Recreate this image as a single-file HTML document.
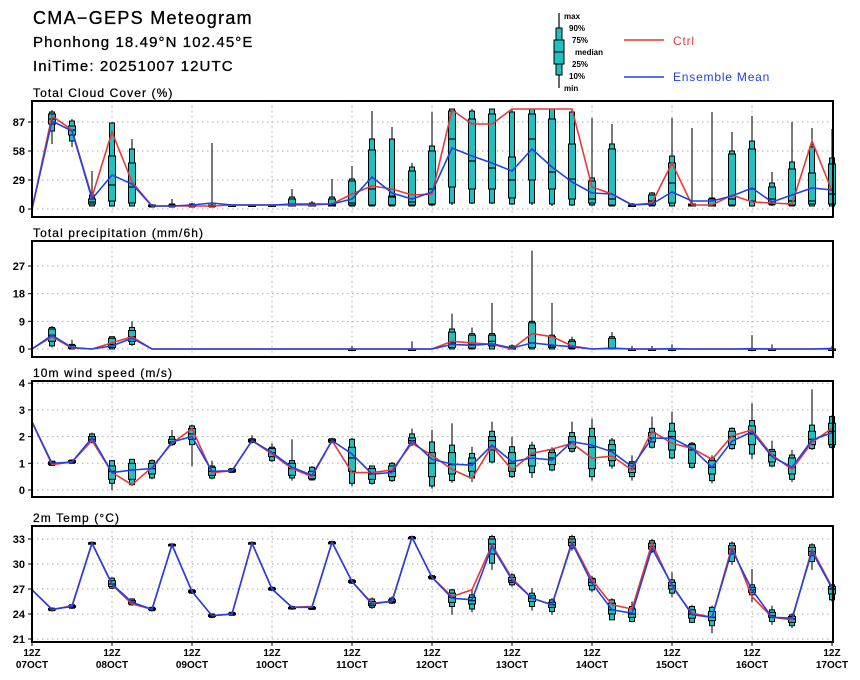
<!DOCTYPE html>
<html><head><meta charset="utf-8">
<style>
html,body{margin:0;padding:0;background:#fff;}
svg{display:block;font-family:"Liberation Sans",sans-serif;}
</style></head>
<body>
<svg id="chart" width="860" height="680" viewBox="0 0 860 680" xmlns="http://www.w3.org/2000/svg">
<text x="33" y="24" font-size="18" letter-spacing="1.3" stroke="#000" stroke-width="0.3">CMA−GEPS Meteogram</text>
<text x="33" y="47" font-size="15" letter-spacing="1.1" stroke="#000" stroke-width="0.3">Phonhong 18.49°N 102.45°E</text>
<text x="33" y="71" font-size="15" letter-spacing="1.1" stroke="#000" stroke-width="0.3">IniTime: 20251007 12UTC</text>
<g>
<line x1="559" y1="13" x2="559" y2="88" stroke="#000" stroke-width="1.2"/>
<rect x="556" y="28" width="6" height="47" fill="#20c0c0" stroke="#000"/>
<rect x="554" y="40" width="10" height="24" fill="#20c0c0" stroke="#000"/>
<line x1="554" y1="52" x2="564" y2="52" stroke="#000"/>
<g font-size="8" font-weight="bold">
<text x="564" y="19">max</text><text x="569" y="31">90%</text><text x="572" y="43">75%</text>
<text x="575" y="55">median</text><text x="572" y="67">25%</text><text x="569" y="79">10%</text><text x="564" y="91">min</text>
</g></g>
<g><line x1="624" y1="40" x2="664" y2="40" stroke="#e83838" stroke-width="1.5"/><text x="673" y="45" font-size="12" letter-spacing="0.8" fill="#e83838">Ctrl</text></g>
<g><line x1="624" y1="77" x2="664" y2="77" stroke="#2040e8" stroke-width="1.5"/><text x="673" y="81" font-size="12" letter-spacing="0.8" fill="#2040e8">Ensemble Mean</text></g>
</svg>
<script>
// ---- Cloud cover ----
const cloudCtrl=[0,93,79,12,77,27,3,3,3,3,4,4,4,4,4,5,15,23,20,14,15,99,85,85,100,100,100,100,22,15,4,6,46,4,4,14,7,6,5,68,18];
const cloudMean=[0,88,78,10,34,25,3,3,4,6,4,4,4,5,5,5,10,32,16,10,17,61,53,46,38,60,42,27,16,15,4,5,17,8,8,13,21,7,14,21,19];
const cloudMin=[null,65,62,3,3,3,2,2,2,2,3,3,3,3,3,3,3,3,3,3,3,4,5,5,4,4,3,3,3,3,3,3,3,3,3,3,3,3,3,3,3];
const cloudP10=[null,78,68,3,3,3,2,2,2,2,3,3,3,3,3,3,3,3,3,3,4,6,6,6,5,6,5,4,4,3,3,3,3,3,3,3,3,4,3,3,3];
const cloudP25=[null,85,74,5,8,6,3,3,3,3,3,3,3,3,3,3,4,4,4,4,5,22,20,20,11,29,20,10,6,4,3,4,6,3,3,4,8,5,4,5,5];
const cloudMed=[null,90,79,7,24,22,3,3,3,3,4,4,4,5,4,4,6,20,12,7,20,70,48,41,29,70,37,30,10,10,3,8,26,4,4,10,20,10,8,8,15];
const cloudP75=[null,95,83,10,53,46,4,4,4,4,4,4,4,10,5,10,28,59,13,38,58,98,90,95,52,95,90,65,28,60,4,14,46,5,10,55,60,22,40,36,45];
const cloudP90=[null,97,88,14,86,60,4,5,5,4,4,4,4,12,6,12,30,70,70,42,63,100,98,100,97,100,100,97,31,65,5,16,53,5,11,58,68,26,47,62,51];
const cloudMax=[null,99,90,38,86,70,5,10,6,66,5,4,5,20,8,30,43,98,82,46,97,100,100,100,100,100,100,100,91,85,6,17,91,81,97,77,93,37,87,81,80];
const cloudTicks=[0,29,58,87];
// ---- Precipitation ----
const precCtrl=[0,4,0.3,0,2,4,0,0,0,0,0,0,0,0,0,0,0,0,0,0,0,2.5,2,1.5,0,5,4,1,0,0.3,0,0,0,0,0,0,0,0,0,0,0];
const precMean=[0,4.5,0.5,0,1,3.5,0,0,0,0,0,0,0,0,0,0,0,0,0,0,0,1.5,1.2,1.7,0.3,2,1.3,0.7,0,0.2,0,0,0.1,0,0,0,0.1,0,0,0,0.2];
const precMin=[null,0.5,0,0,0,1,0,0,0,0,0,0,0,0,0,0,0,0,0,0,0,0,0,0,0,0,0,0,0,0,0,0,0,0,0,0,0,0,0,0,0];
const precP10=[null,1,0,0,0,1.5,0,0,0,0,0,0,0,0,0,0,0,0,0,0,0,0,0,0,0,0,0,0,0,0,0,0,0,0,0,0,0,0,0,0,0];
const precP25=[null,2.5,0.2,0,0.5,2.5,0,0,0,0,0,0,0,0,0,0,0,0,0,0,0,0.5,0.3,1,0,0.5,0.5,0.3,0,0,0,0,0,0,0,0,0,0,0,0,0];
const precMed=[null,4.5,0.5,0,1.5,4,0,0,0,0,0,0,0,0,0,0,0,0,0,0,0,2,1.5,2.5,0,2,1,1,0,0.3,0,0,0,0,0,0,0,0,0,0,0];
const precP75=[null,6.5,1.2,0,3.5,6,0,0,0,0,0,0,0,0,0,0,0,0,0,0,0,5.5,4.5,4.5,0.5,8.5,4,2.5,0,3.5,0,0,0,0,0,0,0,0,0,0,0];
const precP90=[null,7,1.5,0,4,7,0,0,0,0,0,0,0,0,0,0,0,0,0,0,0,6.5,5,5,1,9,4.5,3,0,4,0,0,0,0,0,0,0,0,0,0,0];
const precMax=[null,7.5,3,0,4,9,0,0,0,0,0,0,0,0,0,0,1,0,0,2.5,0,11.5,7,15,1.5,32,15,4,0,5.5,1,1,1.5,0,0,0,4.5,1.5,0,0,1];
const precTicks=[0,9,18,27];
// ---- Wind ----
const windCtrl=[2.55,0.95,1.05,1.85,0.65,0.2,0.85,1.75,2.3,0.65,0.72,1.85,1.35,0.8,0.5,1.85,0.65,0.65,0.75,1.75,1.3,0.77,0.43,1.65,0.75,1.37,1.53,1.75,1.19,1.27,0.75,2.2,1.75,1.56,1.15,2.03,2.25,1.31,0.77,1.78,2.31];
const windMean=[2.55,1.0,1.05,1.95,0.65,0.75,0.8,1.8,2.0,0.7,0.72,1.85,1.4,0.85,0.55,1.85,1.35,0.6,0.65,1.85,1.15,0.97,0.93,1.68,1.06,1.2,1.12,1.81,1.68,1.43,0.87,1.94,1.94,1.56,0.85,1.83,2.18,1.25,0.85,1.87,2.15];
const windMin=[null,0.9,1.0,1.75,0.0,0.15,0.4,1.65,0.9,0.4,0.65,1.75,1.05,0.35,0.35,1.75,0.15,0.2,0.3,1.65,0.05,0.27,0.3,1.0,0.45,0.45,0.7,1.4,0.35,0.8,0.35,1.55,1.15,0.8,0.25,1.5,1.15,0.85,0.3,1.5,1.55];
const windP10=[null,0.92,1.0,1.78,0.25,0.2,0.45,1.7,1.7,0.45,0.66,1.78,1.1,0.45,0.38,1.78,0.25,0.25,0.35,1.7,0.15,0.35,0.45,1.05,0.5,0.65,0.75,1.45,0.5,0.9,0.5,1.6,1.2,0.85,0.35,1.55,1.35,0.9,0.4,1.55,1.6];
const windP25=[null,0.95,1.02,1.82,0.4,0.4,0.6,1.75,1.9,0.55,0.68,1.8,1.25,0.55,0.42,1.8,0.7,0.4,0.5,1.75,0.5,0.6,0.7,1.5,0.7,0.9,0.95,1.55,0.8,1.1,0.65,1.8,1.5,1.0,0.6,1.7,1.7,1.05,0.6,1.7,1.7];
const windMed=[null,1.0,1.05,1.9,0.7,0.75,0.8,1.8,2.1,0.7,0.72,1.85,1.4,0.8,0.55,1.85,1.2,0.6,0.7,1.85,1.0,0.95,1.0,1.85,1.0,1.3,1.2,1.8,1.6,1.5,0.8,1.95,2.0,1.5,0.85,2.0,2.1,1.3,0.85,1.9,2.2];
const windP75=[null,1.05,1.1,2.0,0.9,1.0,1.0,1.9,2.3,0.85,0.78,1.9,1.55,1.0,0.7,1.9,1.6,0.8,0.9,1.95,1.4,1.4,1.2,2.0,1.4,1.55,1.4,2.0,2.0,1.7,1.0,2.15,2.2,1.7,1.1,2.2,2.4,1.45,1.2,2.2,2.5];
const windP90=[null,1.08,1.12,2.1,1.1,1.15,1.1,2.0,2.4,0.9,0.8,1.92,1.6,1.1,0.85,1.92,1.9,0.9,1.0,2.1,1.8,1.68,1.37,2.2,1.62,1.68,1.5,2.15,2.31,1.87,1.06,2.31,2.5,1.75,1.19,2.31,2.6,1.52,1.31,2.43,2.75];
const windMax=[null,1.1,1.15,2.15,1.1,1.15,1.15,2.25,2.45,1.1,0.82,2.05,1.75,1.9,0.9,1.95,1.95,0.9,1.05,2.3,2.25,2.5,1.62,2.56,2.0,1.81,1.6,2.56,2.68,1.95,1.3,2.75,2.93,1.8,1.3,2.35,3.25,1.85,1.5,3.77,2.8];
const windTicks=[0,1,2,3,4];
// ---- Temperature ----
const tempCtrl=[26.9,24.5,25.0,32.5,27.5,25.2,24.56,32.3,26.7,23.8,24.0,32.5,27.0,24.8,24.9,32.6,27.9,25.3,25.5,33.2,28.4,26.1,26.9,32.3,28.3,25.9,25.1,32.7,28.1,25.1,24.6,32.5,27.3,24.1,23.6,32.1,26.1,23.6,23.3,31.8,27.2];
const tempMean=[26.9,24.56,24.9,32.5,27.6,25.4,24.56,32.3,26.7,23.8,24.0,32.5,27.0,24.8,24.8,32.6,27.9,25.2,25.55,33.2,28.4,25.9,25.7,32.1,28.1,25.9,25.1,32.5,27.7,24.5,24.1,31.9,27.5,23.9,23.6,31.7,26.9,23.6,23.5,31.5,27.1];
const tempMin=[null,24.3,24.6,32.3,27.0,25.0,24.3,32.1,26.4,23.5,23.8,32.3,26.8,24.5,24.5,32.4,27.6,24.6,25.2,33.0,28.1,23.9,24.2,29.3,27.3,24.4,23.9,31.6,26.6,23.3,23.0,31.3,26.0,22.9,21.7,29.9,25.4,22.7,22.3,29.3,25.5];
const tempP10=[null,24.4,24.7,32.4,27.1,25.1,24.4,32.2,26.5,23.6,23.85,32.4,26.85,24.6,24.55,32.45,27.7,24.8,25.3,33.05,28.2,24.9,24.6,30.1,27.5,24.9,24.3,31.9,26.9,23.3,23.1,31.5,26.5,23.0,22.6,30.3,26.3,23.1,22.6,30.3,25.7];
const tempP25=[null,24.5,24.8,32.45,27.3,25.2,24.5,32.25,26.6,23.7,23.9,32.45,26.9,24.7,24.6,32.5,27.8,25.0,25.4,33.1,28.3,25.4,25.2,31.2,27.8,25.5,24.8,32.2,27.4,24.0,23.6,31.8,27.0,23.5,23.2,31.2,26.6,23.6,23.0,31.0,26.4];
const tempMed=[null,24.55,24.9,32.5,27.6,25.4,24.6,32.3,26.7,23.8,24.0,32.5,27.0,24.75,24.7,32.55,27.9,25.2,25.5,33.15,28.4,26.0,25.6,32.4,28.0,25.9,25.1,32.6,27.8,24.5,24.0,32.1,27.4,24.0,23.6,31.8,26.9,23.8,23.4,31.5,27.0];
const tempP75=[null,24.65,25.0,32.55,28.0,25.6,24.7,32.35,26.8,23.9,24.1,32.55,27.1,24.8,24.8,32.6,28.0,25.5,25.7,33.2,28.5,26.5,26.0,33.0,28.4,26.2,25.4,33.0,28.2,25.3,24.6,32.5,27.8,24.5,24.3,32.2,27.2,24.2,23.7,32.0,27.3];
const tempP90=[null,24.7,25.1,32.6,28.3,25.8,24.8,32.4,26.9,24.0,24.2,32.6,27.2,24.9,24.9,32.7,28.1,25.8,25.9,33.3,28.6,26.9,26.3,33.3,28.7,26.5,25.7,33.3,28.3,25.7,24.9,32.8,28.1,24.9,24.8,32.5,27.5,24.5,23.9,32.3,27.5];
const tempMax=[null,24.8,25.2,32.7,28.4,25.9,24.9,32.5,27.0,24.1,24.3,32.7,27.3,25.0,25.0,32.8,28.2,26.0,26.1,33.4,28.7,27.0,26.9,33.5,28.9,27.1,25.9,33.5,28.6,25.9,25.5,33.0,29.0,25.1,25.0,32.7,29.4,25.0,24.1,32.5,27.6];
const tempTicks=[21,24,27,30,33];
// ---- X axis ----
const dayLabels=["07OCT","08OCT","09OCT","10OCT","11OCT","12OCT","13OCT","14OCT","15OCT","16OCT","17OCT"];

const NS="http://www.w3.org/2000/svg";
const svg=document.getElementById('chart');
const X0=32,X1=833,STEP=20;
function xs(i){return X0+i*STEP;}
function mk(tag,attrs,parent){const e=document.createElementNS(NS,tag);for(const k in attrs)e.setAttribute(k,attrs[k]);(parent||svg).appendChild(e);return e;}

function panel(cfg){
  const g=mk('g',{});
  
  
  const ys=v=>cfg.y0-(v-cfg.v0)*cfg.k;
  const t=mk('text',{x:33,y:cfg.top-4,'font-size':12,'letter-spacing':1.1,stroke:'#000','stroke-width':0.25},g);
  t.textContent=cfg.title;
  
  
  for(let d=1;d<dayLabels.length-1;d++){
    const gl=mk('line',{x1:xs(d*4),x2:xs(d*4),y1:cfg.top,y2:cfg.bot,stroke:'#aaa','stroke-dasharray':'1.5,3.5'},g);
    
    
  }
  cfg.ticks.forEach(tv=>{
    const y=ys(tv);
    const hl=mk('line',{x1:X0,x2:X1,y1:y,y2:y,stroke:'#aaa','stroke-dasharray':'1.5,3.5'},g);
    
    
    mk('line',{x1:X0-4,x2:X0,y1:y,y2:y,stroke:'#000'},g);
    const lb=mk('text',{x:X0-7,y:y+4,'font-size':11,'font-weight':'bold','text-anchor':'end'},g);
    lb.textContent=tv;
    
    
  });
  for(let i=1;i<cfg.ctrl.length;i++){
    if(cfg.max[i]===null||cfg.max[i]<=cfg.v0)continue;
    const x=xs(i);
    const bg=mk('g',{},g);
    
    
    mk('line',{x1:x,x2:x,y1:Math.max(ys(cfg.max[i]),cfg.top+1),y2:ys(cfg.min[i]),stroke:'#222','stroke-width':1.2},bg);
    const h1=Math.max(ys(cfg.p10[i])-ys(cfg.p90[i]),1.5);
    mk('rect',{x:x-2.5,y:Math.max(ys(cfg.p90[i]),cfg.top+1),width:5,height:h1,fill:'#20c0c0',stroke:'#000','stroke-width':1},bg);
    const h2=Math.max(ys(cfg.p25[i])-ys(cfg.p75[i]),1.5);
    mk('rect',{x:x-3.5,y:Math.max(ys(cfg.p75[i]),cfg.top+1),width:7,height:h2,fill:'#20c0c0',stroke:'#000','stroke-width':1},bg);
    mk('line',{x1:x-3.5,x2:x+3.5,y1:ys(cfg.med[i]),y2:ys(cfg.med[i]),stroke:'#000','stroke-width':1.2},bg);
  }
  const line=(arr,col,nm)=>{
    const p=mk('polyline',{points:arr.map((v,i)=>xs(i)+','+ys(v).toFixed(1)).join(' '),fill:'none',stroke:col,'stroke-width':1.6},g);
    
    
  };
  line(cfg.ctrl,'#e83838',cfg.name+'-ctrl-line');
  line(cfg.mean,'#2040e8',cfg.name+'-mean-line');
  const fr=mk('rect',{x:X0,y:cfg.top,width:X1-X0,height:cfg.bot-cfg.top,fill:'none',stroke:'#000','stroke-width':2},g);
  
  
}
panel({name:'cloud-cover',title:'Total Cloud Cover (%)',top:101,bot:217,y0:209,v0:0,k:1,ticks:cloudTicks,ctrl:cloudCtrl,mean:cloudMean,min:cloudMin,p10:cloudP10,p25:cloudP25,med:cloudMed,p75:cloudP75,p90:cloudP90,max:cloudMax});
panel({name:'precipitation',title:'Total precipitation (mm/6h)',top:241,bot:357,y0:349,v0:0,k:3.074,ticks:precTicks,ctrl:precCtrl,mean:precMean,min:precMin,p10:precP10,p25:precP25,med:precMed,p75:precP75,p90:precP90,max:precMax});
panel({name:'wind-speed',title:'10m wind speed (m/s)',top:381,bot:497,y0:490,v0:0,k:26.7,ticks:windTicks,ctrl:windCtrl,mean:windMean,min:windMin,p10:windP10,p25:windP25,med:windMed,p75:windP75,p90:windP90,max:windMax});
panel({name:'temperature',title:'2m Temp (°C)',top:526,bot:642,y0:639,v0:21,k:8.333,ticks:tempTicks,ctrl:tempCtrl,mean:tempMean,min:tempMin,p10:tempP10,p25:tempP25,med:tempMed,p75:tempP75,p90:tempP90,max:tempMax});
dayLabels.forEach((d,k)=>{
  const x=xs(k*4);
  mk('line',{x1:x,x2:x,y1:642,y2:646,stroke:'#000'});
  const a=mk('text',{x:x,y:656,'font-size':10,'font-weight':'bold','text-anchor':'middle'});
  a.textContent='12Z';
  
  
  const b=mk('text',{x:x,y:668,'font-size':10,'font-weight':'bold','text-anchor':'middle'});
  b.textContent=d;
  
  
});
</script>
</body></html>
